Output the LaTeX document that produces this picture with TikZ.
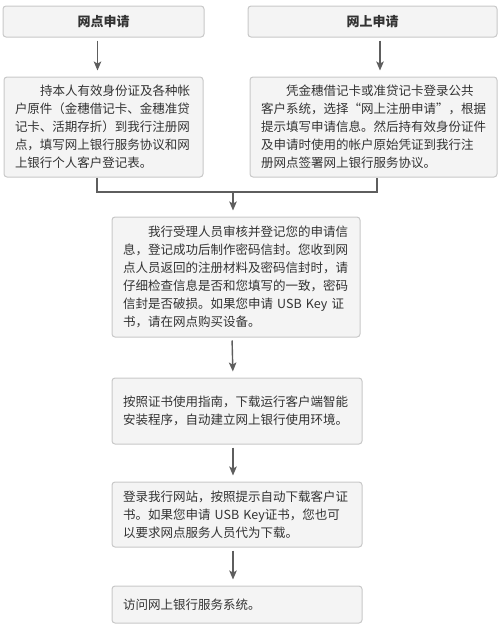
\documentclass[tikz,border=0pt]{standalone}
\usepackage{fontspec}
\newfontfamily\cjk{Noto Sans CJK SC}
\usetikzlibrary{arrows.meta}
\definecolor{boxfill}{HTML}{F4F4F4}
\definecolor{boxline}{HTML}{C8C8C8}
\definecolor{arrowgray}{HTML}{5E5E5E}
\definecolor{textgray}{HTML}{333333}
\tikzset{
  stepbox/.style={fill=boxfill,draw=boxline,line width=1pt,rounded corners=3pt,shape=rectangle,
    text=textgray,align=left,inner xsep=11pt,inner ysep=0pt,
    font=\cjk\fontsize{12.5pt}{18pt}\selectfont},
  titlebox/.style={fill=boxfill,draw=boxline,line width=1pt,rounded corners=3pt,shape=rectangle,
    text=textgray,font=\cjk\bfseries\fontsize{13pt}{15pt}\selectfont},
  flow/.style={draw=arrowgray,line width=1.4pt,-{Stealth[length=9pt,width=7.5pt,inset=2pt]},
    shorten <=3pt,shorten >=6pt},
  link/.style={draw=arrowgray,line width=1.6pt}
}
\begin{document}
\begin{tikzpicture}[x=1pt,y=-1pt]
\useasboundingbox (0,0) rectangle (500,632);
\node[titlebox,minimum width=201pt,minimum height=31pt](wd) at (103.5,21.5){网点申请};
\node[titlebox,minimum width=249pt,minimum height=31pt](ws) at (372.5,21.5){网上申请};
\node[stepbox,text width=177pt,minimum height=100pt](wdstep) at (103.5,127){\hspace*{2em}持本人有效身份证及各种帐\\户原件（金穗借记卡、金穗准贷\\记卡、活期存折）到我行注册网\\点，填写网上银行服务协议和网\\上银行个人客户登记表。};
\node[stepbox,text width=225pt,minimum height=100pt](wsstep) at (373.5,127){\hspace*{2em}凭金穗借记卡或准贷记卡登录公共\\客户系统，选择“网上注册申请”，根据\\提示填写申请信息。然后持有效身份证件\\及申请时使用的帐户原始凭证到我行注\\册网点签署网上银行服务协议。};
\draw[flow] ([xshift=-6pt]wd.south) -- ([xshift=-6pt]wdstep.north);
\draw[flow] ([xshift=7.5pt]ws.south) -- ([xshift=6.5pt]wsstep.north);
% merge the two ways
\coordinate (join) at (233,192);
\node[stepbox,text width=226pt,minimum height=120pt](check) at (236,277){\hspace*{2em}我行受理人员审核并登记您的申请信\\息，登记成功后制作密码信封。您收到网\\点人员返回的注册材料及密码信封时，请\\仔细检查信息是否和您填写的一致，密码\\信封是否破损。如果您申请 USB Key 证\\书，请在网点购买设备。};
\draw[link] ([xshift=-6.5pt]wdstep.south) |- (join) -| ([xshift=3.5pt]wsstep.south);
\draw[flow,shorten <=0pt] (join) -- ([xshift=-3pt]check.north);
\node[stepbox,text width=228pt,minimum height=66pt](setup) at (237,411){按照证书使用指南，下载运行客户端智能\\安装程序，自动建立网上银行使用环境。};
\node[stepbox,text width=228pt,minimum height=65pt](cert) at (237,514.5){登录我行网站，按照提示自动下载客户证\\书。如果您申请 USB Key证书，您也可\\以要求网点服务人员代为下载。};
\node[stepbox,text width=228pt,minimum height=37pt](visit) at (237,604.5){访问网上银行服务系统。};
\draw[flow] ([xshift=-4pt]check.south) -- ([xshift=-4pt]setup.north);
\draw[flow] ([xshift=-4pt]setup.south) -- ([xshift=-4pt]cert.north);
\draw[flow] ([xshift=-4pt]cert.south) -- ([xshift=-4pt]visit.north);
\end{tikzpicture}
\end{document}
